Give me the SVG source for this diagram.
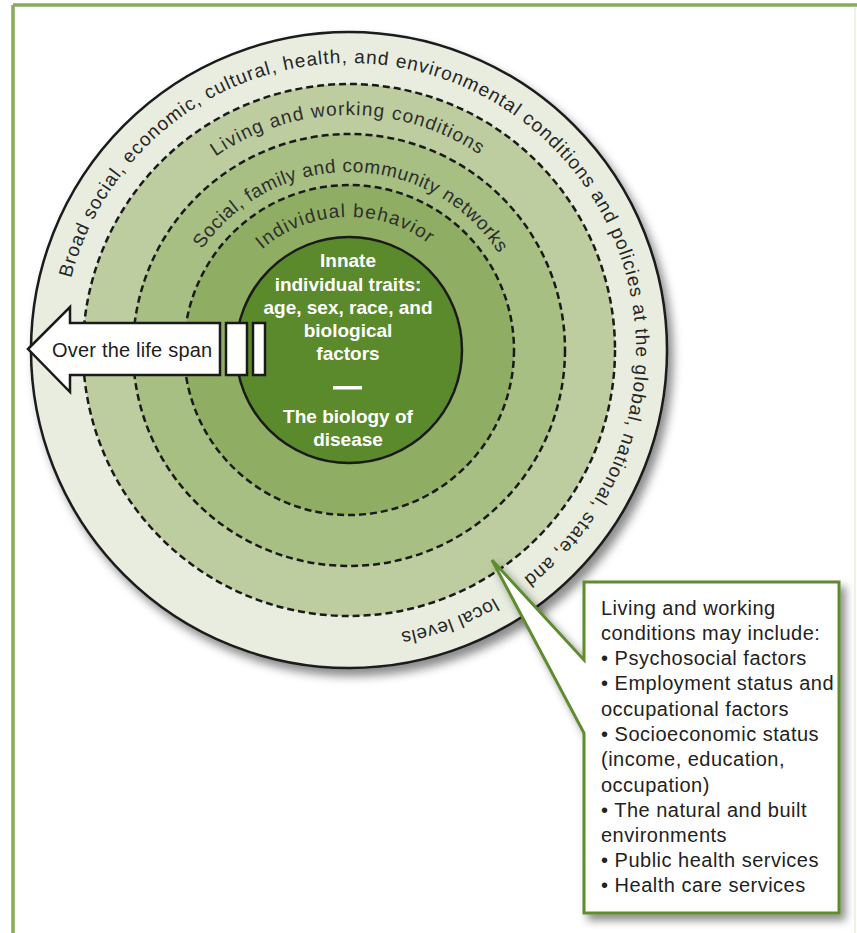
<svg xmlns="http://www.w3.org/2000/svg" xmlns:xlink="http://www.w3.org/1999/xlink" width="857" height="933" viewBox="0 0 857 933">
  <style>
    .ring-label { font-family: "Liberation Sans", Arial, sans-serif; font-size: 19px; fill: #2e2e2e; }
    .outer-label { font-family: "Liberation Sans", Arial, sans-serif; font-size: 19px; fill: #262626; }
    .core-text { font-family: "Liberation Sans", Arial, sans-serif; font-size: 19px; font-weight: bold; fill: #ffffff; text-anchor: middle; }
    .box-text { font-family: "Liberation Sans", Arial, sans-serif; font-size: 20px; letter-spacing: 0.5px; fill: #222222; }
    .dashed { stroke: #1a1a1a; stroke-width: 2.5; stroke-dasharray: 7 4; }
    .solid { stroke: #1a1a1a; stroke-width: 2.5; }
    .white-shape { fill: #ffffff; stroke: #1a1a1a; stroke-width: 2.5; stroke-linejoin: miter; }
  </style>
  <defs>
    <filter id="ringShadow" x="-10%" y="-10%" width="125%" height="125%">
      <feDropShadow dx="5" dy="7" stdDeviation="5" flood-color="#000000" flood-opacity="0.45"/>
    </filter>
    <filter id="boxShadow" x="-10%" y="-10%" width="130%" height="130%">
      <feDropShadow dx="5" dy="6" stdDeviation="4" flood-color="#000000" flood-opacity="0.45"/>
    </filter>
    <!-- text baselines: clockwise circles starting at the west point, centre (349,350) -->
    <path id="pathOuter" d="M62,350 A287,287 0 0 1 636,350 A287,287 0 0 1 62,350"/>
    <path id="pathLiving" d="M114,350 A235,235 0 0 1 584,350 A235,235 0 0 1 114,350"/>
    <path id="pathSocial" d="M171,350 A178,178 0 0 1 527,350 A178,178 0 0 1 171,350"/>
    <path id="pathIndividual" d="M216,350 A133,133 0 0 1 482,350 A133,133 0 0 1 216,350"/>
  </defs>

  <rect width="857" height="933" fill="#ffffff"/>

  <!-- page frame -->
  <g id="frame" fill="none">
    <line x1="13" y1="5" x2="857" y2="5" stroke="#86ab5a" stroke-width="3.5"/>
    <line x1="13" y1="5" x2="13" y2="933" stroke="#86ab5a" stroke-width="3.5"/>
    <line x1="855" y1="7" x2="855" y2="933" stroke="#e6eedb" stroke-width="1.5"/>
  </g>

  <!-- concentric layers -->
  <g id="layer-policies">
    <circle cx="349" cy="350" r="318" fill="#e8eddf" class="solid" filter="url(#ringShadow)"/>
  </g>
  <g id="layer-living">
    <circle cx="349" cy="350" r="266" fill="#bdcd9f" class="dashed"/>
  </g>
  <g id="layer-social">
    <circle cx="349" cy="350" r="216" fill="#a7bf83" class="dashed"/>
  </g>
  <g id="layer-individual">
    <circle cx="349" cy="350" r="165" fill="#8fae63" class="dashed"/>
  </g>
  <g id="layer-core">
    <circle cx="349" cy="350" r="113" fill="#5b8a2d" class="solid"/>
  </g>

  <!-- curved layer labels -->
  <g id="labels">
    <text class="outer-label"><textPath xlink:href="#pathOuter" startOffset="72.6" textLength="1092" lengthAdjust="spacing">Broad social, economic, cultural, health, and environmental conditions and policies at the global, national, state, and</textPath></text>
    <text class="outer-label"><textPath xlink:href="#pathOuter" startOffset="1200" textLength="100" lengthAdjust="spacing">local levels</textPath></text>
    <text class="ring-label"><textPath xlink:href="#pathLiving" startOffset="227" textLength="280" lengthAdjust="spacing">Living and working conditions</textPath></text>
    <text class="ring-label"><textPath xlink:href="#pathSocial" startOffset="106.9" textLength="350" lengthAdjust="spacing">Social, family and community networks</textPath></text>
    <text class="ring-label"><textPath xlink:href="#pathIndividual" startOffset="114" textLength="180" lengthAdjust="spacing">Individual behavior</textPath></text>
  </g>

  <!-- core text -->
  <g id="core-text">
    <text class="core-text" x="348" y="267">Innate</text>
    <text class="core-text" x="348" y="291">individual traits:</text>
    <text class="core-text" x="348" y="314">age, sex, race, and</text>
    <text class="core-text" x="348" y="337">biological</text>
    <text class="core-text" x="348" y="360">factors</text>
    <rect x="333" y="386" width="29" height="3.5" fill="#ffffff"/>
    <text class="core-text" x="348" y="423">The biology of</text>
    <text class="core-text" x="348" y="446">disease</text>
  </g>

  <!-- life-span arrow -->
  <g id="life-span-arrow">
    <polygon class="white-shape" points="28,349 70,307 70,323 220,323 220,375 70,375 70,392"/>
    <rect class="white-shape" x="226" y="323" width="21" height="52"/>
    <rect class="white-shape" x="253" y="323" width="12" height="52"/>
    <text x="52" y="357" font-family="Liberation Sans, Arial, sans-serif" font-size="20" letter-spacing="0.2" fill="#1e1e1e">Over the life span</text>
  </g>

  <!-- callout box with pointer -->
  <g id="callout">
    <path d="M584,582 H839 V913 H584 V733 L492,560 L584,660 Z" fill="#ffffff" stroke="#5e8c2f" stroke-width="3" stroke-linejoin="miter" filter="url(#boxShadow)"/>
    <text class="box-text" x="601" y="615">Living and working</text>
    <text class="box-text" x="601" y="640">conditions may include:</text>
    <text class="box-text" x="601" y="665">• Psychosocial factors</text>
    <text class="box-text" x="601" y="690">• Employment status and</text>
    <text class="box-text" x="601" y="716">occupational factors</text>
    <text class="box-text" x="601" y="741">• Socioeconomic status</text>
    <text class="box-text" x="601" y="766">(income, education,</text>
    <text class="box-text" x="601" y="792">occupation)</text>
    <text class="box-text" x="601" y="817">• The natural and built</text>
    <text class="box-text" x="601" y="842">environments</text>
    <text class="box-text" x="601" y="867">• Public health services</text>
    <text class="box-text" x="601" y="892">• Health care services</text>
  </g>
</svg>
